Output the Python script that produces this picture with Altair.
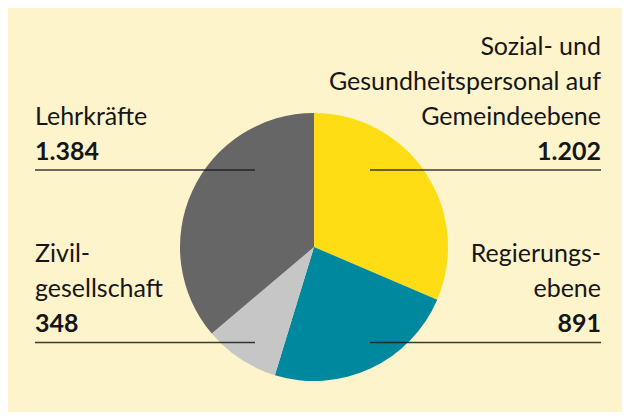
import altair as alt
import pandas as pd

# data
categories = ["Sozial- und Gesundheitspersonal auf Gemeindeebene", "Regierungsebene", "Zivilgesellschaft", "Lehrkräfte"]
values = [1202, 891, 348, 1384]
value_labels = ["1.202", "891", "348", "1.384"]
label_lines = [
    ["Sozial- und", "Gesundheitspersonal auf", "Gemeindeebene"],
    ["Regierungs-", "ebene"],
    ["Zivil-", "gesellschaft"],
    ["Lehrkräfte"],
]
colors = ["#FFDD15", "#00899E", "#C6C6C6", "#666666"]

# layout (chart coordinates, page offset 8px)
W, H = 614, 404
OFF = 8
CX, CY, R = 314 - OFF, 247 - OFF, 134
FONT = "Lato"
FS = 25
LH = 35
layout = {
    # (anchor x, align, baseline of value line, rule x1, rule x2, rule y)
    0: (601, "right", 159.5, 370, 601, 170),
    1: (601, "right", 331.7, 370, 601, 342.5),
    2: (35, "left", 331.7, 35, 255, 342.5),
    3: (35, "left", 159.5, 35, 255, 170),
}

df = pd.DataFrame({"cat": categories, "val": values, "idx": list(range(len(values)))})

pie = alt.Chart(df).mark_arc(radius=R).encode(
    theta=alt.Theta("val:Q", stack=True),
    color=alt.Color("cat:N", scale=alt.Scale(domain=categories, range=colors), legend=None, sort=None),
    order=alt.Order("idx:Q"),
    x=alt.value(CX),
    y=alt.value(CY),
)

layers = [pie]
rows_txt = []
rows_rule = []
for i in range(len(categories)):
    ax, align, vb, x1, x2, ry = layout[i]
    lines = label_lines[i]
    n = len(lines)
    for j, t in enumerate(lines):
        rows_txt.append({"t": t, "x": ax - OFF, "y": vb - (n - j) * LH - OFF, "align": align, "w": "light"})
    rows_txt.append({"t": value_labels[i], "x": ax - OFF, "y": vb - OFF, "align": align, "w": "bold"})
    rows_rule.append({"x": x1 - OFF, "x2": x2 - OFF, "y": ry - OFF})

txt = pd.DataFrame(rows_txt)
rules = pd.DataFrame(rows_rule)

for align in ["left", "right"]:
    for w, fw in [("light", "normal"), ("bold", "bold")]:
        sub = txt[(txt["align"] == align) & (txt["w"] == w)]
        if len(sub) == 0:
            continue
        layers.append(
            alt.Chart(sub).mark_text(
                align=align, baseline="alphabetic", font=FONT, fontSize=FS, fontWeight=fw, color="#161616"
            ).encode(
                x=alt.X("x:Q", scale=alt.Scale(domain=[0, W], range=[0, W]), axis=None),
                y=alt.Y("y:Q", scale=alt.Scale(domain=[0, H], range=[0, H]), axis=None),
                text="t:N",
            )
        )

layers.append(
    alt.Chart(rules).mark_rule(color="#1a1a1a", strokeWidth=1.5, opacity=0.85).encode(
        x=alt.X("x:Q", scale=alt.Scale(domain=[0, W], range=[0, W]), axis=None),
        x2="x2:Q",
        y=alt.Y("y:Q", scale=alt.Scale(domain=[0, H], range=[0, H]), axis=None),
    )
)

chart = alt.layer(*layers).properties(
    width=W, height=H, background="#FDF4CC", padding=0, autosize=alt.AutoSizeParams(type="none")
).configure_view(stroke=None).resolve_scale(color="independent")

chart.save("out.html", embed_options={"renderer": "svg", "actions": False})
